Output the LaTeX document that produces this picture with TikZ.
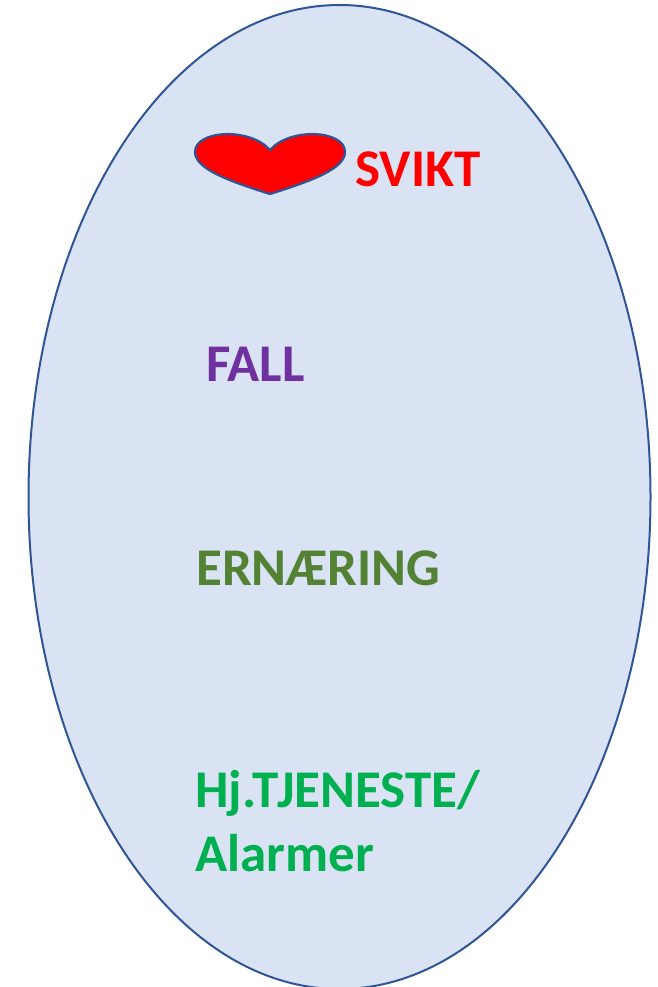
\documentclass[tikz,border=0pt]{standalone}
\usepackage{fontspec}
\setmainfont{Carlito}
\usetikzlibrary{shapes.geometric}
\definecolor{ovalfill}{HTML}{DAE3F3}
\definecolor{ovalline}{HTML}{2F5597}
\definecolor{fallcol}{HTML}{7030A0}
\definecolor{ernacol}{HTML}{548235}
\definecolor{hjcol}{HTML}{00B050}

\begin{document}
\begin{tikzpicture}
[x=1pt,y=-1pt
,oval/.style={ellipse,draw=ovalline,fill=ovalfill,line width=2pt,minimum width=622pt,minimum height=984pt,inner sep=0pt}
,lab/.style={font=\bfseries\fontsize{53pt}{60pt}\selectfont,anchor=base west,inner sep=0pt}
,heart/.style={draw=ovalline,fill=red,line width=2.2pt}]
\useasboundingbox (0,0) rectangle (657,987);
\node[oval] (o1) at (339.5,497) {};
\node[lab,red] (n1) at (355,186) {SVIKT};
\node[lab,fallcol] (n2) at (206,381) {FALL};
\node[lab,ernacol] (n3) at (196,585) {ERNÆRING};
\node[lab,hjcol] (n4) at (195,807) {Hj.TJENESTE/};
\node[lab,hjcol] (n5) at (195,871) {Alarmer};
\draw[heart] (270,194) .. controls (225,180) and (195,168) .. (195,152)
 .. controls (195,130) and (250,127) .. (270,150)
 .. controls (290,127) and (345,130) .. (345,152)
 .. controls (345,168) and (315,180) .. (270,194) -- cycle;
\end{tikzpicture}
\end{document}
